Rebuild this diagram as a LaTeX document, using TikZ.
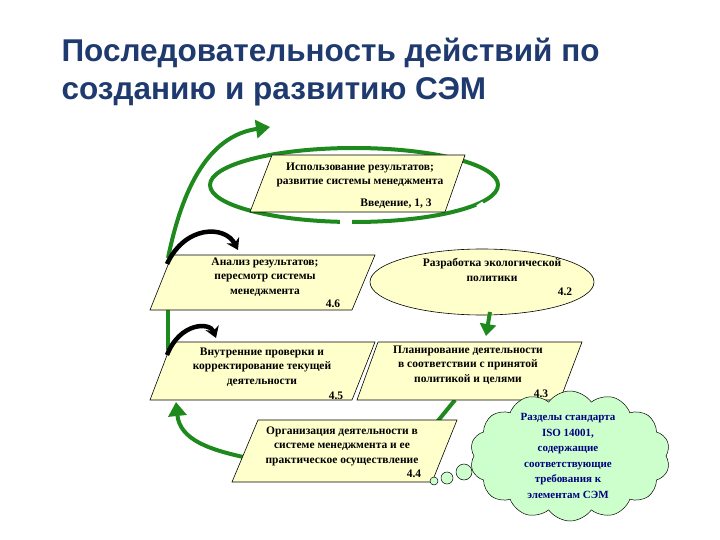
\documentclass[tikz,border=0pt]{standalone}
\usepackage{fontspec}
\setmainfont{Liberation Serif}
\newfontfamily\titlefont{Liberation Sans}
\usetikzlibrary{shapes.symbols,arrows.meta}
\definecolor{paleY}{HTML}{FFFFCC}
\definecolor{paleG}{HTML}{CCFFCC}
\definecolor{grn}{HTML}{1E8A1E}
\definecolor{ttl}{HTML}{1F3A6E}
\definecolor{navy}{HTML}{000080}
\begin{document}
\begin{tikzpicture}[x=1pt,y=-1pt,
  box/.style={draw=black,fill=paleY,line width=0.6pt},
  txt/.style={font=\bfseries\fontsize{11.5}{14.5}\selectfont,align=center},
  num/.style={font=\bfseries\fontsize{11.5}{14}\selectfont},
  garrow/.style={draw=grn,line width=4pt},
  barrow/.style={draw=black,line width=4.5pt,-{Stealth[length=11pt,width=14pt]}}]
\useasboundingbox (0,0) rectangle (720,540);
% title
\node[anchor=west,font=\titlefont\bfseries\fontsize{31.5}{38}\selectfont,text=ttl,align=left] (title) at (58,72) {Последовательность действий по\\созданию и развитию СЭМ};
% green loop around top
\coordinate (ec) at (354,185);
\draw[garrow] (ec) ellipse[x radius=144,y radius=37];
\draw[white,line width=6pt] (340,222) -- (352,222);
\draw[white,line width=6pt] (478,208) -- (484,204);
\draw[garrow,-{Triangle[length=14pt,width=18pt]}] (168,258) .. controls (185,175) and (215,135) .. (270,127);
% boxes
\fill[box] (272,155) -- (465,155) -- (445,212) -- (250,212) -- cycle;
\node[txt] (b1) at (360,175) {Использование результатов;\\развитие системы менеджмента};
\node[num] (b1n) at (396,204) {Введение, 1, 3};
\draw[garrow] (168,310) -- (168,350);
\fill[box] (172,255) -- (375,255) -- (352,310) -- (150,310) -- cycle;
\node[txt] (b6) at (265,277) {Анализ результатов;\\пересмотр системы\\менеджмента};
\node[num] (b6n) at (333,304) {4.6};
\fill[box] (482,282) ellipse[x radius=112,y radius=33];
\node[txt] (b2) at (492,270) {Разработка экологической\\политики};
\node[num] (b2n) at (565,292) {4.2};
\draw[garrow,-{Triangle[length=12pt,width=16pt]}] (490,312) -- (486,336);
\draw[garrow] (455,400) -- (437,422);
\fill[box] (172,342) -- (375,342) -- (352,400) -- (150,400) -- cycle;
\node[txt] (b5) at (262,367) {Внутренние проверки и\\корректирование текущей\\деятельности};
\node[num] (b5n) at (336,396) {4.5};
\fill[box] (378,342) -- (582,342) -- (560,400) -- (357,400) -- cycle;
\node[txt] (b3) at (468,365) {Планирование деятельности\\в соответствии с принятой\\политикой и целями};
\node[num] (b3n) at (541,394) {4.3};
\draw[garrow,-{Triangle[length=14pt,width=18pt]}] (248,458) .. controls (210,450) and (180,440) .. (176,402);
\fill[box] (258,420) -- (457,420) -- (432,482) -- (232,482) -- cycle;
\node[txt] (b4) at (342,446) {Организация деятельности в\\системе менеджмента и ее\\практическое осуществление};
\node[num] (b4n) at (414,474) {4.4};
% black arrows
\draw[barrow] (167,264) .. controls (185,225) and (225,225) .. (238,250);
\draw[barrow] (167,355) .. controls (180,322) and (210,322) .. (216,338);
% thought bubble
\draw[black,fill=paleG,line width=0.5pt] (434,481) circle[radius=4];
\draw[black,fill=paleG,line width=0.5pt] (447,478) circle[radius=6];
\draw[black,fill=paleG,line width=0.5pt] (464,472) circle[radius=8];
\node[cloud,cloud puffs=14,cloud puff arc=110,aspect=1.5,draw=black,fill=paleG,line width=0.5pt,minimum width=200pt,minimum height=130pt] (cl) at (570,456) {};
\node[txt,text=navy,font=\bfseries\fontsize{11}{15.5}\selectfont] (clt) at (568,456) {Разделы стандарта\\ISO 14001,\\содержащие\\соответствующие\\требования к\\элементам СЭМ};
\end{tikzpicture}
\end{document}
